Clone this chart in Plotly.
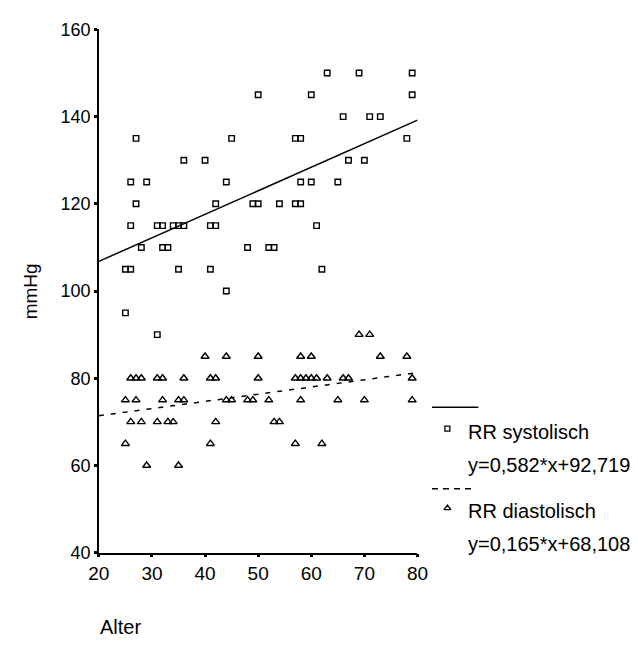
import plotly.graph_objects as go

W, H = 638, 648

# ---- data ----
sys_age = [50, 27, 45, 36, 40, 26, 29, 44, 27, 42, 49, 50, 26, 31, 32, 34, 35, 36, 41, 42,
           28, 32, 33, 48, 25, 26, 35, 41, 44, 25, 31,
           63, 69, 79, 60, 79, 66, 71, 73, 57, 58, 78, 67, 70, 58, 60, 65, 54, 57, 58,
           61, 52, 53, 62]
sys_val = [145, 135, 135, 130, 130, 125, 125, 125, 120, 120, 120, 120, 115, 115, 115, 115, 115, 115, 115, 115,
           110, 110, 110, 110, 105, 105, 105, 105, 100, 95, 90,
           150, 150, 150, 145, 145, 140, 140, 140, 135, 135, 135, 130, 130, 125, 125, 125, 120, 120, 120,
           115, 110, 110, 105]

dia_age = [26, 27, 28, 31, 32, 36, 41, 42, 50,
           25, 27, 32, 35, 36, 44, 45, 48, 49,
           26, 28, 31, 33, 34, 42,
           25, 41, 29, 35,
           57, 58, 59, 60, 61, 63, 66, 67, 79,
           52, 58, 65, 70, 79,
           53, 54, 57, 62,
           40, 44, 50, 58, 60, 73, 78, 69, 71]
dia_val = [80, 80, 80, 80, 80, 80, 80, 80, 80,
           75, 75, 75, 75, 75, 75, 75, 75, 75,
           70, 70, 70, 70, 70, 70,
           65, 65, 60, 60,
           80, 80, 80, 80, 80, 80, 80, 80, 80,
           75, 75, 75, 75, 75,
           70, 70, 65, 65,
           85, 85, 85, 85, 85, 85, 85, 90, 90]

fit_x = [20, 80]
sys_fit = [106.8, 139.2]
dia_fit = [71.4, 81.3]

x_ticks = [20, 30, 40, 50, 60, 70, 80]
y_ticks = [40, 60, 80, 100, 120, 140, 160]

legend_labels = ["RR systolisch", "y=0,582*x+92,719", "RR diastolisch", "y=0,165*x+68,108"]

# ---- layout geometry (pixels) ----
X0, X1 = 91, 421
Y0, Y1 = 20, 560   # top, bottom

FONT = "Liberation Sans, Arial, sans-serif"

fig = go.Figure()
fig.add_trace(go.Scatter(x=fit_x, y=sys_fit, mode="lines",
                         line=dict(color="black", width=1.5), hoverinfo="skip"))
fig.add_trace(go.Scatter(x=fit_x, y=dia_fit, mode="lines",
                         line=dict(color="black", width=1.5, dash="5px,7px"), hoverinfo="skip"))
fig.add_trace(go.Scatter(x=sys_age, y=sys_val, mode="markers",
                         marker=dict(symbol="square-open", size=5.5, color="black",
                                     line=dict(width=1.4, color="black"))))
fig.add_trace(go.Scatter(x=dia_age, y=dia_val, mode="markers",
                         marker=dict(symbol="triangle-up-open", size=7, color="black",
                                     line=dict(width=1.4, color="black"))))

# legend marks on a full-page overlay axis in pixel coordinates
fig.add_trace(go.Scatter(x=[452], y=[432], xaxis="x2", yaxis="y2", mode="markers",
                         marker=dict(symbol="square-open", size=5, color="black",
                                     line=dict(width=1.3, color="black"))))
fig.add_trace(go.Scatter(x=[452], y=[514], xaxis="x2", yaxis="y2", mode="markers",
                         marker=dict(symbol="triangle-up-open", size=6, color="black",
                                     line=dict(width=1.3, color="black"))))
fig.add_trace(go.Scatter(x=[436, 484], y=[410, 410], xaxis="x2", yaxis="y2", mode="lines",
                         line=dict(color="black", width=1.5)))
fig.add_trace(go.Scatter(x=[436, 479], y=[494, 494], xaxis="x2", yaxis="y2", mode="lines",
                         line=dict(color="black", width=1.3, dash="6px,5px")))

annotations = []
for txt, yy in zip(legend_labels, [435, 470, 517, 551]):
    annotations.append(dict(x=471, y=yy, xref="x2", yref="y2", text=txt, showarrow=False,
                            xanchor="left", yanchor="middle",
                            font=dict(family=FONT, size=20, color="black")))
annotations.append(dict(x=20, y=290, xref="x2", yref="y2", text="mmHg", showarrow=False,
                        textangle=-90, xanchor="center", yanchor="middle",
                        font=dict(family=FONT, size=19, color="black")))
annotations.append(dict(x=90, y=637, xref="x2", yref="y2", text="Alter", showarrow=False,
                        xanchor="left", yanchor="middle",
                        font=dict(family=FONT, size=20, color="black")))

fig.update_layout(
    width=W, height=H,
    margin=dict(l=0, r=0, t=0, b=0, pad=0),
    paper_bgcolor="white", plot_bgcolor="rgba(0,0,0,0)",
    showlegend=False,
    font=dict(family=FONT, color="black"),
    xaxis=dict(domain=[X0 / W, X1 / W], range=[20, 80], tickvals=x_ticks,
               showgrid=False, zeroline=False, showline=True, linecolor="black", linewidth=1.5,
               ticks="outside", ticklen=3, tickwidth=3, tickcolor="black",
               tickfont=dict(family=FONT, size=19, color="black"), anchor="y"),
    yaxis=dict(domain=[(H - Y1) / H, (H - Y0) / H], range=[40, 160], tickvals=y_ticks,
               showgrid=False, zeroline=False, showline=True, linecolor="black", linewidth=1.5,
               ticks="outside", ticklen=3, tickwidth=3, tickcolor="black",
               tickfont=dict(family=FONT, size=18, color="black"), anchor="x"),
    xaxis2=dict(domain=[0, 1], range=[0, W], visible=False, anchor="y2"),
    yaxis2=dict(domain=[0, 1], range=[H, 0], visible=False, anchor="x2"),
    annotations=annotations,
)

fig.write_html("out.html")
